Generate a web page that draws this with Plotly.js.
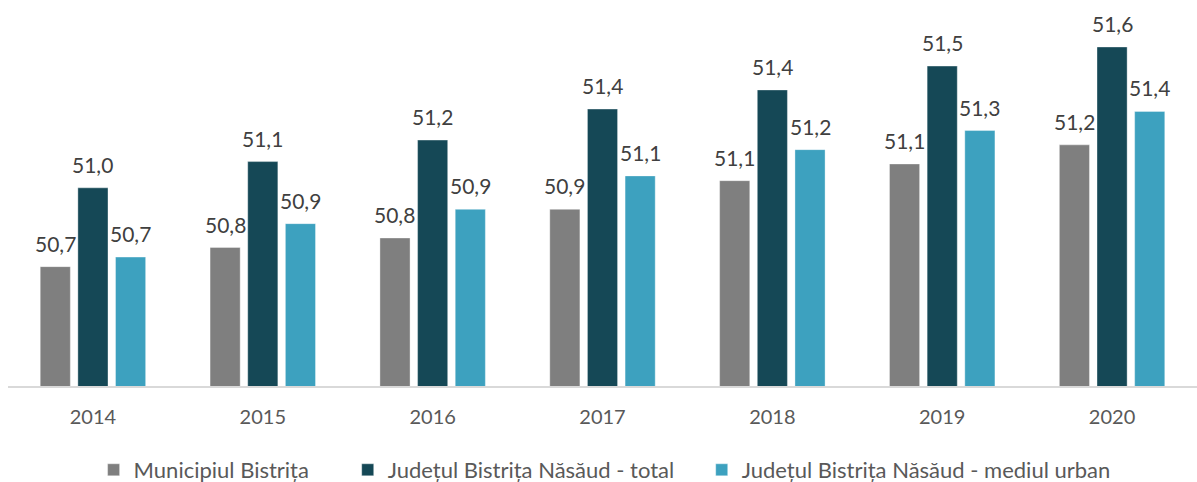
<!DOCTYPE html>
<html>
<head>
<meta charset="utf-8">
<script src="https://cdn.plot.ly/plotly-3.0.1.min.js"></script>
<style>
  html, body { margin: 0; padding: 0; background: #ffffff; }
  #chart { width: 1197px; height: 482px; }
</style>
</head>
<body>
<div id="chart"></div>
<script>
const years = ['2014', '2015', '2016', '2017', '2018', '2019', '2020'];
const seriesNames = ['Municipiul Bistrița', 'Județul Bistrița Năsăud - total', 'Județul Bistrița Năsăud - mediul urban'];
const municipiul = [50.70, 50.78, 50.82, 50.94, 51.06, 51.13, 51.21];
const judetTotal = [51.03, 51.14, 51.23, 51.36, 51.44, 51.54, 51.62];
const judetUrban = [50.74, 50.88, 50.94, 51.08, 51.19, 51.27, 51.35];
const colors = ['#7f7f7f', '#154856', '#3da1bf'];

const seriesValues = [municipiul, judetTotal, judetUrban];
const FONT = 'Lato, "Open Sans", sans-serif';
const legendPad = [6, 4, 0];

const traces = seriesValues.map((vals, i) => ({
  type: 'bar',
  name: seriesNames[i] + '\u00a0'.repeat(legendPad[i]),
  x: years,
  y: vals,
  marker: { color: colors[i], line: { width: 0.8, color: 'rgba(255,255,255,0.45)' } },
  hoverinfo: 'x+y+name'
}));

const bargap = 0.335;
const bargroupgap = 0.2;
const plotLeft = 8, plotRight = 0;
const plotWidth = 1197 - plotLeft - plotRight;
const catWidth = plotWidth / years.length;
const slot = catWidth * (1 - bargap) / seriesValues.length;

const fmt = v => v.toFixed(1).replace('.', ',');
const annotations = [];
seriesValues.forEach((vals, i) => {
  vals.forEach((v, j) => {
    annotations.push({
      x: j, y: v, xref: 'x', yref: 'y',
      xshift: (i - 1) * slot,
      yshift: 9,
      yanchor: 'bottom', xanchor: 'center',
      text: fmt(v), showarrow: false,
      font: { family: FONT, size: 21, color: '#404040' }
    });
  });
});

const layout = {
  width: 1197, height: 482,
  margin: { l: plotLeft, r: plotRight, t: 4, b: 96, autoexpand: false },
  paper_bgcolor: '#ffffff', plot_bgcolor: '#ffffff',
  barmode: 'group', bargap: bargap, bargroupgap: bargroupgap,
  showlegend: true,
  legend: {
    orientation: 'h', x: 0.072, xanchor: 'left',
    yref: 'container', y: 1 - 470 / 482, yanchor: 'middle',
    font: { family: FONT, size: 22, color: '#595959' },
    traceorder: 'normal'
  },
  xaxis: {
    type: 'category', automargin: false,
    range: [-0.5, years.length - 0.5],
    showline: true, linecolor: '#d9d9d9', linewidth: 2,
    ticks: 'outside', ticklen: 12, tickcolor: 'rgba(0,0,0,0)',
    tickfont: { family: FONT, size: 20, color: '#595959' },
    showgrid: false, zeroline: false, fixedrange: true
  },
  yaxis: {
    range: [50.2, 51.8], visible: false, showgrid: false, zeroline: false, fixedrange: true
  },
  annotations: annotations
};

Plotly.newPlot('chart', traces, layout, { displayModeBar: false, staticPlot: true });
</script>
</body>
</html>
